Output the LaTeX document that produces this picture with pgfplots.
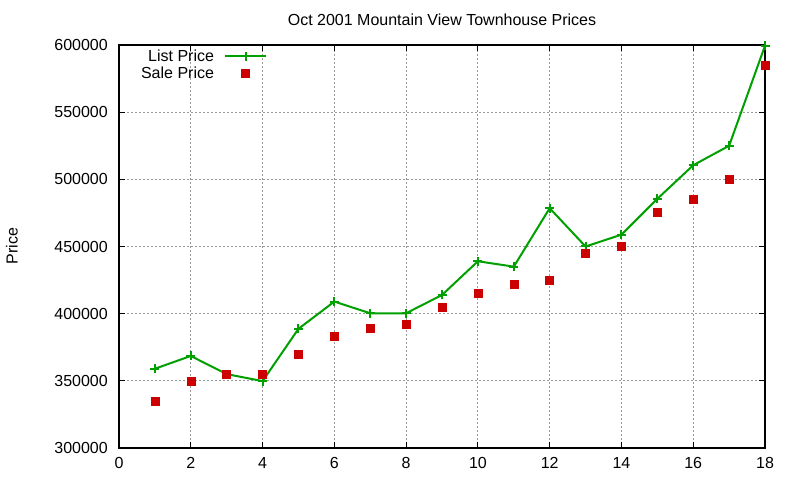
\documentclass[border=0pt]{standalone}
\usepackage{fontspec}
\setmainfont{Liberation Sans}
\usepackage{pgfplots}
\pgfplotsset{compat=1.18}
\definecolor{lgreen}{RGB}{0,160,0}
\definecolor{sred}{RGB}{204,0,0}
\pgfplotsset{
  mylegimg/.style={legend image code/.code={\draw[mark repeat=2,mark phase=2,##1] plot coordinates {(0bp,0bp) (20.5bp,0bp) (41bp,0bp)};}},
}
\begin{document}
\begin{tikzpicture}[x=1bp,y=1bp,font=\fontsize{16bp}{18bp}\selectfont]
\path[use as bounding box] (0,0) rectangle (800,480);
\begin{axis}[
  at={(119bp,32bp)}, anchor=south west,
  scale only axis, width=646bp, height=403bp,
  xmin=0, xmax=18, ymin=300000, ymax=600000,
  xtick={0,2,...,18}, ytick={300000,350000,...,600000},
  scaled y ticks=false,
  /pgf/number format/assume math mode=true,
  /pgf/number format/1000 sep={},
  /pgf/number format/fixed,
  yticklabel style={inner sep=0pt, anchor=east, xshift=-11bp},
  xticklabel style={inner sep=0pt, anchor=north, yshift=-9bp},
  tick align=inside, xtick pos=both, ytick pos=both,
  major tick length=6bp,
  tick style={line width=1.1bp, black},
  axis line style={line width=1.3bp},
  grid=major,
  major grid style={dash pattern=on 2bp off 2bp, black!40, line width=1bp},
  title={Oct 2001 Mountain View Townhouse Prices},
  title style={at={(0.5,1)}, anchor=base, yshift=13.5bp, inner sep=0pt},
  clip=false,
  legend cell align=right,
  legend plot pos=right,
  legend style={draw=none, fill=none, inner sep=0pt, outer sep=0pt,
    at={(0.2291,1)}, anchor=north east, yshift=-2.5bp,
    column sep=8bp, row sep=0pt, nodes={inner sep=2bp}},
]
\addplot[color=lgreen, line width=2bp, mark=+, mark size=4.5bp, mark options={line width=2bp}, mylegimg]
coordinates {(1,359000)(2,368500)(3,355000)(4,349800)(5,388700)(6,409000)(7,400300)(8,400300)(9,413900)(10,439000)(11,435000)(12,478500)(13,450000)(14,458800)(15,485500)(16,510500)(17,525000)(18,599500)};
\addlegendentry{List Price}
\addplot[only marks, mark=square*, mark size=4bp, color=sred, mark options={draw=sred, fill=sred}, mylegimg]
coordinates {(1,335000)(2,350000)(3,355000)(4,355000)(5,370000)(6,383000)(7,389000)(8,392000)(9,404800)(10,415300)(11,422000)(12,425000)(13,445000)(14,450500)(15,475500)(16,485500)(17,500000)(18,585000)};
\addlegendentry{Sale Price}
\end{axis}
\node[rotate=90, anchor=base, inner sep=0pt] at (17.5,234) {Price};
\end{tikzpicture}
\end{document}
